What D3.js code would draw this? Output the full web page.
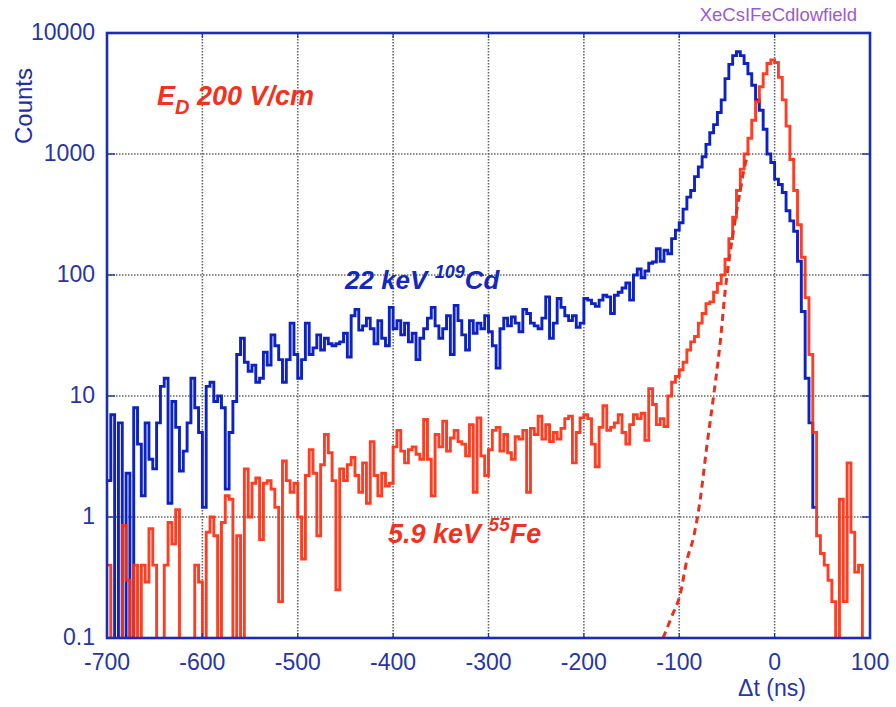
<!DOCTYPE html>
<html>
<head>
<meta charset="utf-8">
<script src="https://cdn.jsdelivr.net/npm/d3@7"></script>
<style>
  html, body { margin: 0; padding: 0; background: #ffffff; }
  svg { display: block; }
</style>
</head>
<body>
<svg id="chart" width="896" height="707"></svg>
<script>
// Drift-time spectra, Xe/CsI, low drift field: 4 ns bins starting at -700 ns
const binStart = -700;
const binWidth = 4;

// 22 keV (109Cd) counts per bin
const cdCounts = [
  2, 7, 0, 6, 0, 2.3, 0, 8, 4, 1.5, 6, 3, 2.5, 6, 12, 14, 1.3, 9, 5.5, 2.4,
  3.5, 6, 14, 8, 5, 1.2, 12, 13, 9, 10, 8, 1.7, 5, 9,
  22, 30, 19, 16, 18, 13, 14, 23, 18, 32, 26, 20, 13, 20, 40, 22, 14, 20, 40, 22,
  25, 32, 24, 30, 27, 26, 27, 28, 33, 21, 46, 52,
  35, 38, 44, 36, 27, 42, 30, 26, 54, 36, 42, 32, 40, 28, 33, 20, 30, 36, 44, 54,
  38, 30, 36, 46, 22, 56, 42, 32, 24, 42, 33, 40, 36,
  46, 34, 26, 17, 36, 44, 38, 45, 40, 34, 52, 48, 40, 38, 36, 44, 66, 30, 40, 64,
  54, 46, 42, 46, 37, 40, 64, 62, 58, 55, 62, 68,
  66, 48, 68, 72, 78, 86, 62, 100, 112, 95, 108, 125, 128, 165, 130, 160, 150, 200, 235,
  270, 350, 440, 500, 650, 780, 950, 1200, 1500, 1750, 2200, 2800, 4200, 5500, 6500,
  7000, 6500, 5600, 4600, 3700, 2800, 2300, 1600, 1000, 850, 620, 560, 480, 340, 280,
  230, 130, 50, 14, 6, 1.2
];

// 5.9 keV (55Fe) counts per bin
const feCounts = [
  0.4, 0, 0, 0, 0.85, 0.3, 0, 0.4, 0, 0.4, 0.29, 0.8, 0.4, 0, 0, 0.4, 0.9, 0.6, 1.15, 0,
  0, 0, 0, 0.4, 0.29, 0, 0.75, 1.0, 0.7, 0, 0.9, 1.5, 1.4, 0,
  0.7, 0, 2.5, 1.0, 1.9, 2.1, 0.65, 1.9, 2.0, 1.7, 1.2, 0.2, 2.9, 2.0, 1.6, 1.9, 1.0, 0.45, 2.2, 3.6,
  2.3, 0.7, 2.7, 4.8, 3.4, 2.0, 0.25, 2.5, 2.0, 2.7, 3.1, 2.2,
  1.6, 2.8, 1.3, 4.2, 2.2, 1.5, 2.3, 1.8, 1.9, 3.8, 5.2, 3.5, 2.8, 3.6, 3.8, 3.3, 3.0, 6.4, 3.0, 1.5,
  4.8, 3.8, 6.2, 3.5, 4.5, 5.2, 4.2, 4.0, 3.2, 5.8, 1.6, 6.6, 3.2,
  2.2, 3.6, 5.2, 5.5, 3.5, 4.8, 3.4, 3.0, 4.6, 4.4, 5.2, 1.6, 5.4, 4.8, 6.8, 4.4, 5.8, 4.2, 5.0, 4.4,
  5.4, 6.5, 6.8, 2.8, 5.0, 6.6, 7.0, 6.5, 4.0, 2.6, 5.5, 8.3,
  5.2, 5.5, 6.0, 7.0, 5.0, 4.0, 5.8, 7.0, 6.5, 7.2, 4.3, 11.5, 8.5, 5.8, 6.5, 5.6, 10, 13, 14.5, 16.5,
  19, 24, 28, 31, 40, 48, 58, 60, 72, 85, 100, 135,
  200, 300, 500, 750, 1000, 1350, 1900, 2700, 3600, 4600, 5600, 6000, 5700, 4300, 2800, 1700, 900, 500,
  260, 140, 65, 22, 5, 0.7, 0.5, 0.4, 0.3, 0.2, 0, 1.4, 0.2, 2.8, 0.75, 0.35, 0.4, 0, 0
];

// Fitted leading edge of the 55Fe peak (dashed)
const fitTimes  = [-117, -108, -99, -92, -85, -78, -71, -64, -57, -52, -48, -44, -40, -36, -32, -28];
const fitCounts = [0.1, 0.15, 0.23, 0.44, 0.68, 1.4, 3.9, 10, 28, 72, 130, 210, 330, 500, 750, 1000];

const xTicks = [-700, -600, -500, -400, -300, -200, -100, 0, 100];
const yTicks = [0.1, 1, 10, 100, 1000, 10000];
const yTickLabels = ["0.1", "1", "10", "100", "1000", "10000"];

const blue = "#0c22c4";
const red = "#ff2c10";
const axisBlue = "#1b2db4";
const labelBlue = "#2436aa";
const font = "'Liberation Sans', Arial, Helvetica, sans-serif";

const svg = d3.select("#chart");
const plotLeft = 107, plotRight = 870, plotTop = 33, plotBottom = 638;

const x = d3.scaleLinear().domain([-700, 100]).range([plotLeft, plotRight]);
const y = d3.scaleLog().domain([0.1, 10000]).range([plotBottom, plotTop]);

svg.append("defs").append("clipPath").attr("id", "plotClip")
  .append("rect").attr("x", plotLeft).attr("y", plotTop)
  .attr("width", plotRight - plotLeft).attr("height", plotBottom - plotTop);

// grid
const grid = svg.append("g").attr("stroke", "#666").attr("stroke-width", 1.6)
  .attr("stroke-dasharray", "1.5,1.5");
xTicks.slice(1, -1).forEach(t => {
  grid.append("line").attr("x1", x(t)).attr("x2", x(t)).attr("y1", plotTop).attr("y2", plotBottom);
});
yTicks.slice(1, -1).forEach(v => {
  grid.append("line").attr("x1", plotLeft).attr("x2", plotRight).attr("y1", y(v)).attr("y2", y(v));
});

// histogram as a step line; empty bins fall off the bottom of the log axis
function stepPoints(counts) {
  const pts = counts.map((c, i) => [binStart + i * binWidth, c]);
  pts.push([binStart + counts.length * binWidth, counts[counts.length - 1]]);
  return pts;
}
const histLine = d3.line()
  .x(d => x(d[0]))
  .y(d => y(d[1] > 0 ? d[1] : 0.01))
  .curve(d3.curveStepAfter);

const plot = svg.append("g").attr("clip-path", "url(#plotClip)");

plot.append("path").datum(stepPoints(cdCounts))
  .attr("d", histLine).attr("fill", "none")
  .attr("stroke", blue).attr("stroke-width", 2.9).attr("stroke-linejoin", "miter");

plot.append("path").datum(stepPoints(feCounts))
  .attr("d", histLine).attr("fill", "none")
  .attr("stroke", red).attr("stroke-width", 2.9).attr("stroke-linejoin", "miter")
  .attr("opacity", 0.92);

const fitLine = d3.line().x(d => x(d[0])).y(d => y(d[1])).curve(d3.curveMonotoneX);
plot.append("path").datum(fitTimes.map((t, i) => [t, fitCounts[i]]))
  .attr("d", fitLine).attr("fill", "none")
  .attr("stroke", "#e8301c").attr("stroke-width", 3).attr("stroke-dasharray", "7,5");

// frame and inner ticks
const axes = svg.append("g").attr("stroke", axisBlue);
axes.append("rect").attr("x", plotLeft).attr("y", plotTop)
  .attr("width", plotRight - plotLeft).attr("height", plotBottom - plotTop)
  .attr("fill", "none").attr("stroke-width", 2.6);
xTicks.slice(1, -1).forEach(t => {
  axes.append("line").attr("x1", x(t)).attr("x2", x(t)).attr("y1", plotBottom).attr("y2", plotBottom - 5).attr("stroke-width", 1.2);
  axes.append("line").attr("x1", x(t)).attr("x2", x(t)).attr("y1", plotTop).attr("y2", plotTop + 5).attr("stroke-width", 1.2);
});
yTicks.slice(1, -1).forEach(v => {
  axes.append("line").attr("x1", plotLeft).attr("x2", plotLeft + 8).attr("y1", y(v)).attr("y2", y(v)).attr("stroke-width", 1.4);
  axes.append("line").attr("x1", plotRight).attr("x2", plotRight - 8).attr("y1", y(v)).attr("y2", y(v)).attr("stroke-width", 1.4);
});

// tick labels
svg.append("g").selectAll("text").data(xTicks).join("text")
  .attr("x", d => x(d)).attr("y", 670)
  .attr("text-anchor", "middle").attr("fill", labelBlue)
  .attr("font-family", font).attr("font-size", 23)
  .text(d => d);

svg.append("g").selectAll("text").data(yTicks).join("text")
  .attr("x", 95).attr("y", d => y(d) + 7)
  .attr("text-anchor", "end").attr("fill", labelBlue)
  .attr("font-family", font).attr("font-size", 23)
  .text((d, i) => yTickLabels[i]);

// axis titles
svg.append("text").attr("transform", "translate(32,106) rotate(-90)")
  .attr("text-anchor", "middle").attr("fill", "#1e2fa8")
  .attr("font-family", font).attr("font-size", 24)
  .text("Counts");

svg.append("text").attr("x", 772).attr("y", 696)
  .attr("text-anchor", "middle").attr("fill", labelBlue)
  .attr("font-family", font).attr("font-size", 23)
  .text("\u0394t (ns)");

svg.append("text").attr("x", 857).attr("y", 21)
  .attr("text-anchor", "end").attr("fill", "#9a5ad4")
  .attr("font-family", font).attr("font-size", 18.5)
  .text("XeCsIFeCdlowfield");

// annotations
const field = svg.append("text").attr("x", 157).attr("y", 105)
  .attr("fill", "#f2321e").attr("font-family", font).attr("font-size", 27)
  .attr("font-weight", "bold").attr("font-style", "italic");
field.append("tspan").text("E");
field.append("tspan").attr("dy", 9).attr("font-size", 20).text("D");
field.append("tspan").attr("dy", -9).text(" 200 V/cm");

const cdLabel = svg.append("text").attr("x", 345).attr("y", 289)
  .attr("fill", "#1228bf").attr("font-family", font).attr("font-size", 26)
  .attr("font-weight", "bold").attr("font-style", "italic");
cdLabel.append("tspan").text("22 keV ");
cdLabel.append("tspan").attr("dy", -11).attr("font-size", 18).text("109");
cdLabel.append("tspan").attr("dy", 11).text("Cd");

const feLabel = svg.append("text").attr("x", 388).attr("y", 543)
  .attr("fill", "#f2321e").attr("font-family", font).attr("font-size", 27)
  .attr("font-weight", "bold").attr("font-style", "italic");
feLabel.append("tspan").text("5.9 keV ");
feLabel.append("tspan").attr("dy", -12).attr("font-size", 19).text("55");
feLabel.append("tspan").attr("dy", 12).text("Fe");
</script>
</body>
</html>
